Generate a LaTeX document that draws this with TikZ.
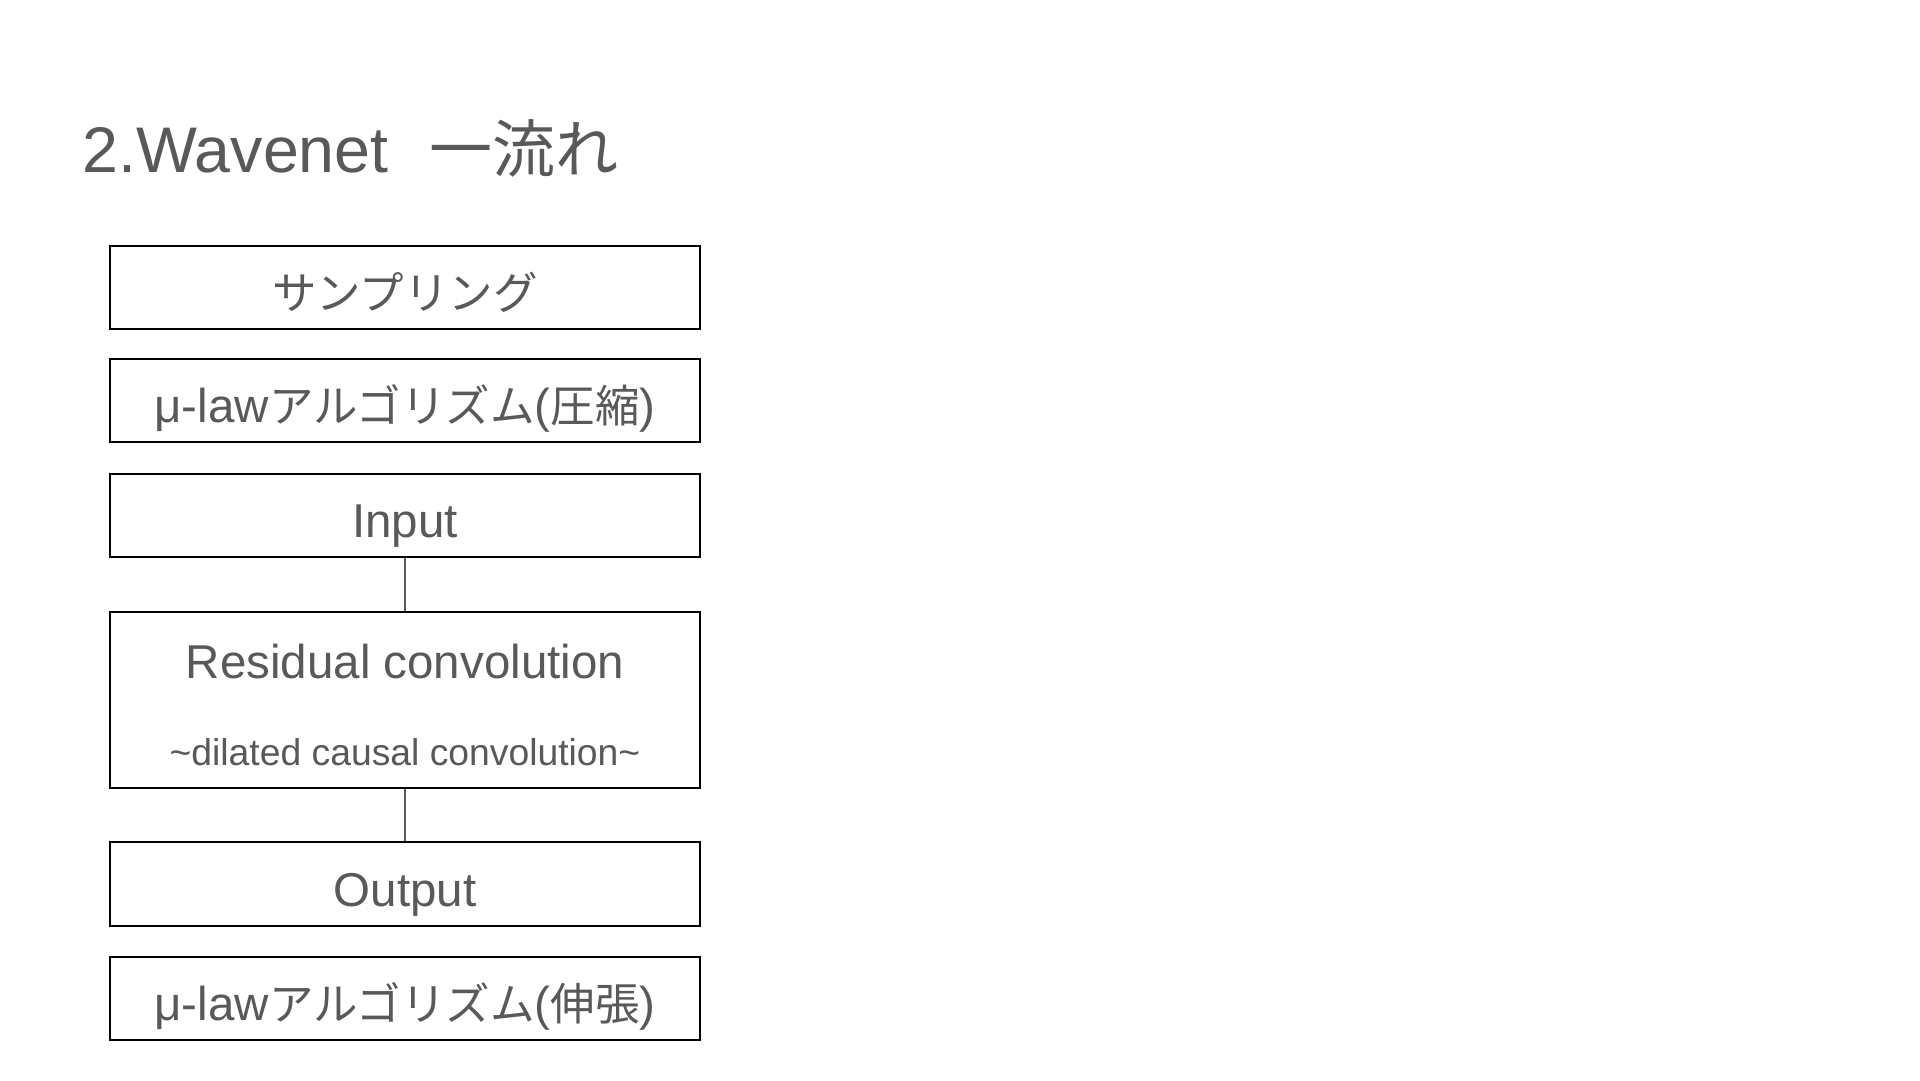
\documentclass[tikz,border=0pt]{standalone}
\usepackage{fontspec}
\setmainfont{Liberation Sans}
\newfontfamily\cjk{Noto Sans CJK JP}
\newcommand{\jp}[1]{{\cjk\fontsize{44.5}{52}\selectfont #1}}
\definecolor{txt}{HTML}{595959}
\begin{document}
\begin{tikzpicture}[x=1pt,y=-1pt,
  stepbox/.style={draw=black,line width=2pt,minimum width=590pt,minimum height=83.5pt,
    inner sep=0pt,text=txt,font=\fontsize{47.5}{52}\selectfont,text height=46pt,text depth=2pt},
  bigbox/.style={draw=black,line width=2pt,minimum width=590pt,minimum height=176pt,inner sep=0pt},
  lbl/.style={inner sep=0pt,text=txt,anchor=base},
  conn/.style={draw=txt,line width=1.3pt}]
\useasboundingbox[fill=white] (0,0) rectangle (1920,1080);
\node[lbl,anchor=base west,font=\fontsize{64.5}{70}\selectfont] (title) at (82.5,172) {2.Wavenet\hspace{41pt}{\cjk\fontsize{63}{70}\selectfont 一流れ}};
\node[stepbox] (b1) at (405,287.5) {\jp{サンプリング}};
\node[stepbox] (b2) at (405,400.3) {μ-law\jp{アルゴリズム}(\jp{圧縮})};
\node[stepbox] (b3) at (405,515.5) {Input};
\node[bigbox] (b4) at (405,700) {};
\node[lbl,font=\fontsize{47.5}{52}\selectfont] (r1) at (405,678) {Residual convolution};
\node[lbl,font=\fontsize{37.3}{40}\selectfont] (r2) at (405,765) {\textasciitilde dilated causal convolution\textasciitilde};
\node[stepbox] (b5) at (405,884.2) {Output};
\node[stepbox] (b6) at (405,998.7) {μ-law\jp{アルゴリズム}(\jp{伸張})};
\draw[conn] (b3.south) -- (b4.north);
\draw[conn] (b4.south) -- (b5.north);
\end{tikzpicture}
\end{document}
